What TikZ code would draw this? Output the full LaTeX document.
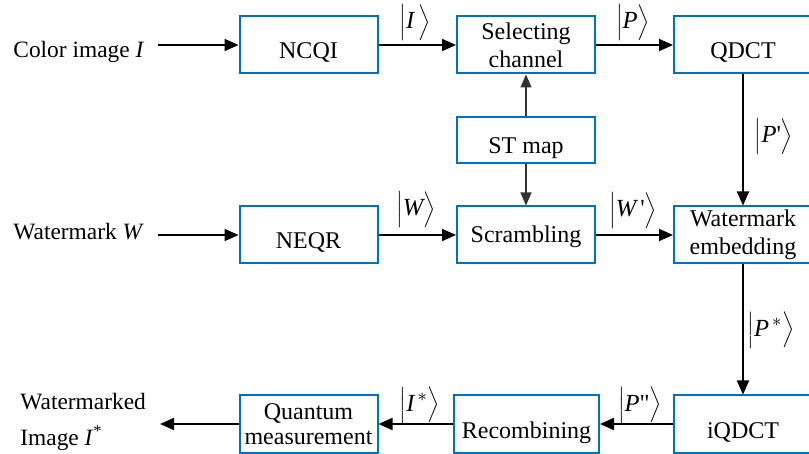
\documentclass[tikz,border=0pt]{standalone}
\usepackage{fontspec}
\setmainfont{Liberation Serif}
\newfontfamily\rawserif{Liberation Serif}
\usetikzlibrary{arrows.meta}
\definecolor{boxblue}{RGB}{0,112,192}
\definecolor{thingray}{RGB}{50,50,50}
\newcommand{\sq}{\mbox{\rawserif\char"27}}
\newcommand{\dq}{\mbox{\rawserif\char"22}}
\begin{document}
\begin{tikzpicture}[x=0.5pt,y=-0.5pt,
  blk/.style={draw=boxblue, line width=1pt, minimum width=69pt, minimum height=28.5pt,
    inner sep=0pt, align=center, font=\fontsize{12}{14}\selectfont},
  one/.style={text height=14pt, text depth=0pt},
  arr/.style={line width=0.9pt, -{Triangle[length=7pt,width=6pt]}},
  garr/.style={draw=thingray, line width=0.6pt, -{Triangle[length=6.5pt,width=5.5pt]}},
  lbl/.style={font=\fontsize{12.3}{14}\selectfont, inner sep=0pt},
  side/.style={font=\fontsize{11.7}{14}\selectfont, inner sep=0pt, anchor=base west}]
\useasboundingbox (0,0) rectangle (809,454);
% boxes
\node[blk, one] (ncqi) at (308.5,45) {NCQI};
\node[blk] (sel) at (526,45) {\raisebox{-1pt}{Selecting}\\\raisebox{-1pt}{channel}};
\node[blk, one] (qdct) at (743,45) {QDCT};
\node[blk, one, minimum height=23pt] (st) at (526,140) {ST map};
\node[blk, one] (neqr) at (308.5,235) {NEQR};
\node[blk, text height=9pt, text depth=1pt] (scr) at (526,235) {Scrambling};
\node[blk] (emb) at (743,235) {Watermark\\embedding};
\node[blk] (qm) at (308.5,424) {\raisebox{1pt}{Quantum}\\[-2.5pt]measurement};
\node[blk, one, minimum width=72.5pt] (rec) at (526.5,424) {Recombining};
\node[blk, one] (iq) at (743,424) {iQDCT};
% side texts
\node[side] (ci) at (13,58) {Color image \textit{I}};
\node[side] (wm) at (13,240) {Watermark \textit{W}};
\node[side] (wmk) at (20,409) {Watermarked};
\node[side] (wim) at (20,445) {Image \textit{I}\textsuperscript{*}};
\coordinate (cin) at (158,45);
\coordinate (win) at (158,235);
\coordinate (outp) at (160,424);
% connectors
\draw[arr] (cin) -- (ncqi.west);
\draw[arr] (ncqi) -- (sel);
\draw[arr] (sel) -- (qdct);
\draw[arr] (win) -- (neqr.west);
\draw[arr] (neqr) -- (scr);
\draw[arr] (scr) -- (emb);
\draw[garr] (st) -- (sel);
\draw[garr] (st) -- (scr);
\draw[arr] (qdct) -- (emb);
\draw[arr] (emb) -- (iq);
\draw[arr] (iq) -- (rec);
\draw[arr] (rec) -- (qm);
\draw[arr] (qm.west) -- (outp);
% labels
\node[lbl] (l1) at (415,23) {$\Bigl|\textit{I}\,\Bigr\rangle$};
\node[lbl] (l2) at (633,23) {$\Bigl|\textit{P}\Bigr\rangle$};
\node[lbl] (l3) at (774,137) {$\Bigl|\textit{P}\sq\Bigr\rangle$};
\node[lbl] (l4) at (416,210) {$\Bigl|\textit{W}\Bigr\rangle$};
\node[lbl] (l5) at (633,211) {$\Bigl|\textit{W}\,\sq\Bigr\rangle$};
\node[lbl] (l6) at (771,330) {$\Bigl|\textit{P}^{\,*}\Bigr\rangle$};
\node[lbl] (l7) at (420,405) {$\Bigl|\textit{I}^{\,*}\Bigr\rangle$};
\node[lbl] (l8) at (640,405) {$\Bigl|\textit{P}\dq\Bigr\rangle$};
\end{tikzpicture}
\end{document}
